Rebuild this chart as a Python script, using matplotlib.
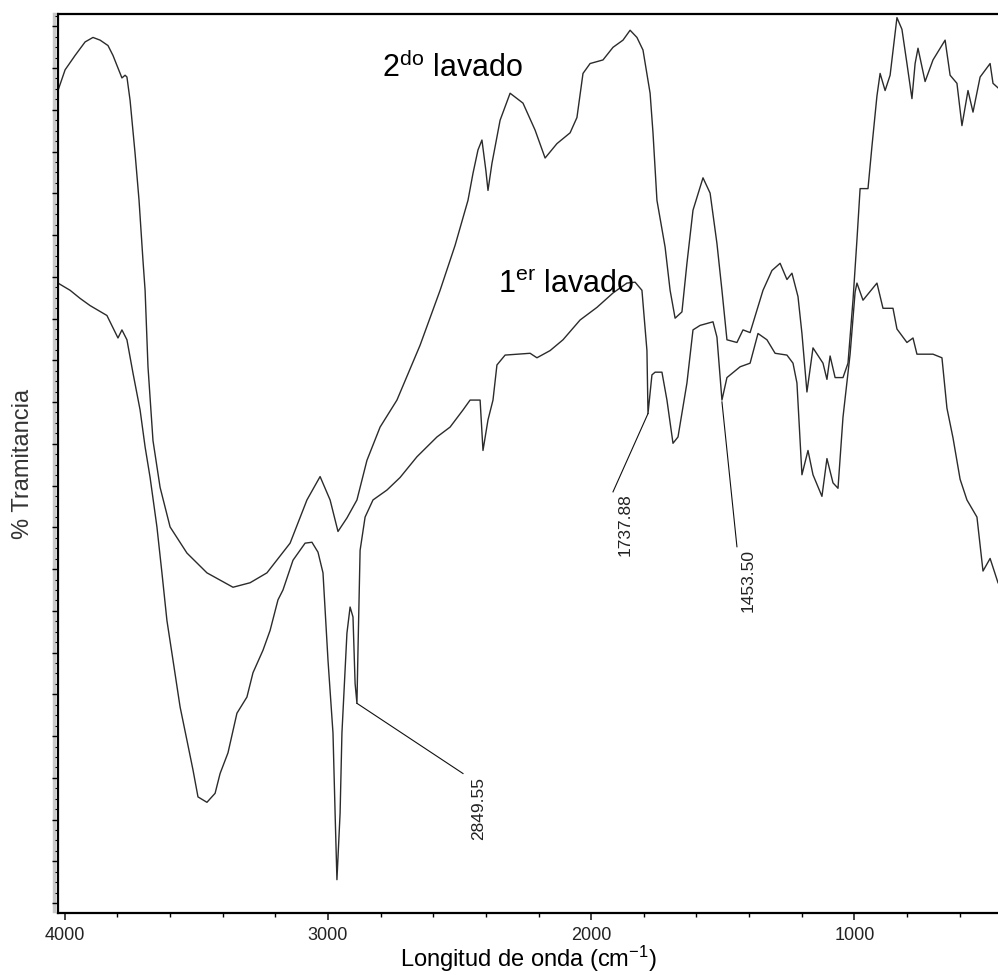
import matplotlib
matplotlib.use("Agg")
import matplotlib.pyplot as plt
from matplotlib.ticker import FixedLocator
from matplotlib.lines import Line2D
import numpy as np

plt.rcParams["font.family"] = ["Liberation Sans", "DejaVu Sans"]
plt.rcParams["mathtext.fontset"] = "custom"
plt.rcParams["mathtext.rm"] = "Liberation Sans"
plt.rcParams["mathtext.it"] = "Liberation Sans:italic"
plt.rcParams["mathtext.bf"] = "Liberation Sans:bold"

# 2do lavado (upper spectrum)
wn2 = [4026, 3999, 3961, 3923, 3893, 3866, 3836, 3817, 3798, 3783, 3771, 3764,
       3752, 3733, 3718, 3703, 3695, 3684, 3665, 3638, 3600, 3536, 3460, 3361,
       3296, 3232, 3144, 3080, 3030, 2992, 2962, 2928, 2890, 2852, 2802, 2738,
       2650, 2574, 2517, 2468, 2449, 2430, 2415, 2400, 2392, 2377, 2346, 2308,
       2259, 2213, 2175, 2130, 2080, 2054, 2031, 2004, 1955, 1917, 1879, 1852,
       1826, 1803, 1776, 1765, 1750, 1719, 1700, 1681, 1655, 1636, 1613, 1575,
       1548, 1522, 1503, 1484, 1446, 1423, 1396, 1347, 1313, 1282, 1256, 1237,
       1214, 1199, 1180, 1157, 1119, 1104, 1092, 1073, 1043, 1024, 1005, 990,
       978, 948, 933, 914, 902, 883, 864, 838, 819, 800, 781, 769, 758, 731,
       701, 655, 636, 610, 591, 568, 549, 522, 484, 473, 454]
t2 = [91.3, 93.6, 95.2, 96.7, 97.2, 96.9, 96.3, 95.2, 93.8, 92.7, 93.0, 92.8,
      90.2, 84.3, 79.1, 72.4, 69.1, 60.6, 52.4, 47.2, 42.8, 39.9, 37.7, 36.1,
      36.6, 37.7, 41.0, 45.8, 48.4, 45.8, 42.3, 43.8, 45.8, 50.2, 53.9, 56.9,
      63.0, 69.1, 74.1, 79.1, 82.1, 84.7, 85.8, 82.4, 80.2, 83.2, 88.0, 91.0,
      89.9, 86.9, 83.8, 85.4, 86.6, 88.3, 93.2, 94.3, 94.7, 96.1, 96.9, 98.0,
      97.2, 95.8, 91.0, 86.6, 79.1, 73.9, 69.1, 66.0, 66.7, 72.1, 78.0, 81.6,
      79.9, 74.3, 69.1, 63.6, 63.3, 64.7, 64.4, 69.1, 71.3, 72.1, 70.3, 71.0,
      68.4, 64.3, 57.8, 62.7, 61.0, 59.2, 61.8, 59.4, 59.4, 61.0, 68.0, 74.7,
      80.4, 80.4, 85.1, 90.7, 93.2, 91.3, 93.0, 99.4, 98.1, 94.3, 90.4, 94.3,
      96.0, 92.3, 94.7, 96.9, 93.0, 92.1, 87.4, 91.3, 88.9, 92.8, 94.3, 92.1,
      91.6]

# 1er lavado (lower spectrum)
wn1 = [4026, 3980, 3942, 3904, 3840, 3798, 3783, 3764, 3741, 3714, 3695, 3676,
       3650, 3631, 3612, 3589, 3562, 3536, 3513, 3494, 3460, 3429, 3410, 3380,
       3346, 3308, 3285, 3247, 3220, 3190, 3171, 3133, 3087, 3061, 3038, 3019,
       3000, 2981, 2973, 2966, 2954, 2947, 2928, 2916, 2905, 2897, 2890, 2886,
       2878, 2859, 2829, 2776, 2726, 2662, 2586, 2536, 2487, 2460, 2422, 2411,
       2392, 2373, 2358, 2327, 2232, 2206, 2156, 2107, 2042, 1978, 1917, 1864,
       1833, 1807, 1788, 1784, 1769, 1757, 1731, 1712, 1689, 1670, 1636, 1613,
       1586, 1537, 1522, 1503, 1484, 1434, 1396, 1366, 1332, 1301, 1256, 1233,
       1218, 1199, 1176, 1157, 1123, 1104, 1081, 1062, 1043, 1016, 997, 990,
       967, 914, 891, 853, 838, 800, 777, 762, 701, 667, 648, 625, 598, 572,
       534, 511, 484, 454]
t1 = [69.9, 69.1, 68.2, 67.4, 66.3, 63.8, 64.7, 63.6, 59.9, 55.8, 51.7, 48.3,
      42.8, 37.7, 32.4, 28.0, 22.8, 19.1, 15.8, 12.8, 12.2, 13.2, 15.4, 17.7,
      22.1, 23.9, 26.6, 29.1, 31.3, 34.7, 35.8, 39.1, 41.0, 41.1, 40.0, 37.7,
      28.0, 19.9, 11.0, 3.6, 11.0, 19.9, 31.0, 33.9, 32.8, 25.4, 23.2, 29.1,
      40.2, 43.9, 45.8, 46.9, 48.3, 50.6, 52.8, 53.9, 55.8, 56.9, 56.9, 51.3,
      54.7, 56.9, 60.8, 61.9, 62.1, 61.6, 62.4, 63.6, 65.8, 67.2, 68.8, 69.9,
      70.0, 69.1, 62.4, 55.4, 59.7, 60.0, 60.0, 56.9, 52.1, 52.8, 58.8, 64.7,
      65.2, 65.6, 63.9, 56.9, 59.4, 60.6, 61.0, 64.3, 63.6, 62.1, 61.9, 61.0,
      58.8, 48.6, 51.3, 48.6, 46.2, 50.4, 47.7, 47.1, 55.0, 62.0, 68.9, 69.9,
      68.0, 69.9, 67.1, 67.1, 64.8, 63.3, 63.8, 62.0, 62.0, 61.6, 56.0, 52.7,
      48.1, 45.8, 43.9, 37.9, 39.3, 36.6]

# peak labels on 1er lavado
peak_labels = ["2849.55", "1737.88", "1453.50"]
peak_wn = [2890, 1784, 1503]
peak_t = [23.2, 55.4, 56.7]

fig = plt.figure(figsize=(9.98, 9.75), dpi=100)
ax = fig.add_axes([0.0581, 0.0636, 0.9419, 0.922])

ax.plot(wn2, t2, color="#2b2b2b", lw=1.0)
ax.plot(wn1, t1, color="#2b2b2b", lw=1.0)

# leader lines and labels
leader_end = [(2487, 15.4), (1917, 46.7), (1446, 40.6)]
text_pos = [(2428, 15.0), (1871, 46.6), (1404, 40.4)]
for lab, x, y, (ex, ey), (tx, ty) in zip(peak_labels, peak_wn, peak_t, leader_end, text_pos):
    ax.plot([x, ex], [y, ey], color="#111111", lw=0.8)
    ax.text(tx, ty, lab, rotation=90, ha="center", va="top",
            fontsize=12.5, color="#222222")

ax.text(2795, 92.8, r"$\mathregular{2^{do}}$ lavado", fontsize=22, va="baseline")
ax.text(2354, 68.8, r"$\mathregular{1^{er}}$ lavado", fontsize=22, va="baseline")

ax.set_xlim(4026, 454)
ax.set_ylim(-0.1, 99.8)

ax.set_xticks([4000, 3000, 2000, 1000])
ax.xaxis.set_minor_locator(FixedLocator(np.arange(3800, 400, -200)))
ax.yaxis.set_major_locator(FixedLocator(np.arange(1.0, 100, 4.64)))
ax.yaxis.set_minor_locator(FixedLocator(np.arange(1.0, 100, 1.16)))
ax.set_yticklabels([])

ax.tick_params(axis="x", which="major", length=5, width=1.2, labelsize=13,
               pad=5, colors="#222222")
ax.tick_params(axis="x", which="minor", length=3, width=1.0)
ax.tick_params(axis="y", which="major", length=4, width=1.0)
ax.tick_params(axis="y", which="minor", length=2, width=0.8)

for s in ["left", "bottom", "top"]:
    ax.spines[s].set_linewidth(1.6)
ax.spines["right"].set_visible(False)

ax.set_xlabel(r"Longitud de onda (cm$\mathregular{^{-1}}$)", fontsize=17, labelpad=0)
ax.set_ylabel("% Tramitancia", fontsize=17, labelpad=10, color="#333333")

# grey band along the frame of the scanned chart
fig.add_artist(Line2D([0.0545, 0.0545], [0.066, 0.986], color="#c8c8c8",
                      lw=2.5, zorder=0))

fig.savefig("out.png", dpi=100)
